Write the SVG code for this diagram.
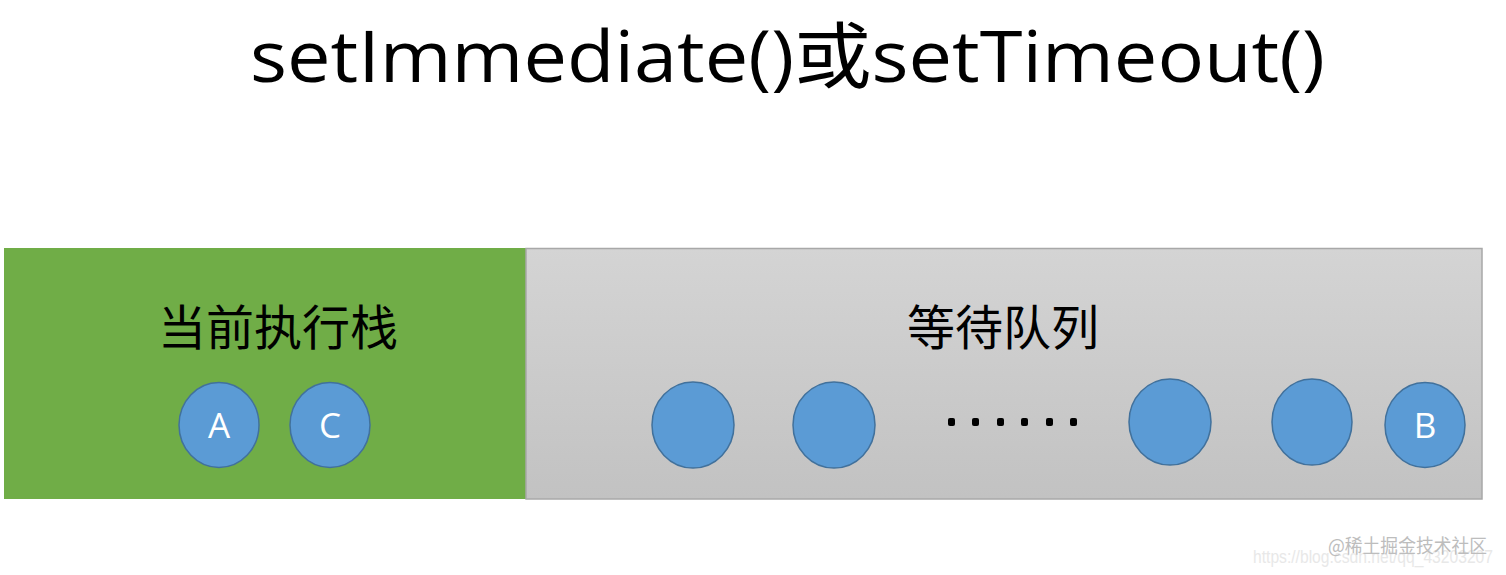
<svg xmlns="http://www.w3.org/2000/svg" width="1506" height="575" viewBox="0 0 1506 575">
<defs>
<linearGradient id="gray" x1="0" y1="0" x2="0" y2="1">
<stop offset="0" stop-color="#d4d4d4"/>
<stop offset="1" stop-color="#c2c2c2"/>
</linearGradient>
<style>
.title{font-family:"Open Sans","Noto Sans","Noto Sans CJK SC",sans-serif;font-size:72px;fill:#000}
.lbl{font-family:"Noto Sans CJK SC",sans-serif;font-size:48px;fill:#000;text-anchor:middle}
.ball{fill:#5b9bd5;stroke:#41719c;stroke-width:1.5}
.bt{font-family:"Open Sans","Noto Sans",sans-serif;font-size:35px;fill:#fff;text-anchor:middle}
.dot{fill:#000}
.wm{font-family:"Noto Sans CJK SC",sans-serif;font-size:19px;fill:#bdbdbd}
.wm2{font-family:"Liberation Sans",sans-serif;font-size:18px;fill:#e8e8e8}
</style>
</defs>
<rect width="1506" height="575" fill="#fff"/>
<text class="title" x="250" y="82" textLength="1075" lengthAdjust="spacingAndGlyphs">setImmediate()或setTimeout()</text>

<g id="stack">
<rect x="4" y="248" width="522" height="251" fill="#70ad47"/>
<text class="lbl" x="278" y="345">当前执行栈</text>
</g>
<g id="queue">
<rect x="526" y="248.5" width="956" height="250.5" fill="url(#gray)" stroke="#a8a8a8" stroke-width="1.5"/>
<text class="lbl" x="1003" y="345">等待队列</text>
</g>
<g id="nodeA"><ellipse class="ball" cx="219" cy="425" rx="40" ry="42.5"/><text class="bt" x="219" y="438">A</text></g>
<g id="nodeC"><ellipse class="ball" cx="330" cy="425" rx="40" ry="42.5"/><text class="bt" x="330" y="438">C</text></g>
<g id="q1"><ellipse class="ball" cx="693" cy="425" rx="41" ry="43"/></g>
<g id="q2"><ellipse class="ball" cx="834" cy="425" rx="41" ry="43"/></g>
<g id="dots">
<rect class="dot" x="948" y="418" width="7" height="8" rx="2"/>
<rect class="dot" x="972" y="418" width="7" height="8" rx="2"/>
<rect class="dot" x="997" y="418" width="7" height="8" rx="2"/>
<rect class="dot" x="1021" y="418" width="7" height="8" rx="2"/>
<rect class="dot" x="1046" y="418" width="7" height="8" rx="2"/>
<rect class="dot" x="1070" y="418" width="7" height="8" rx="2"/>
</g>
<g id="q3"><ellipse class="ball" cx="1170" cy="422" rx="41" ry="43"/></g>
<g id="q4"><ellipse class="ball" cx="1312" cy="422" rx="40" ry="43"/></g>
<g id="nodeB"><ellipse class="ball" cx="1425" cy="425" rx="40" ry="42.5"/><text class="bt" x="1425" y="438">B</text></g>
<g id="connectors"></g>
<text class="wm2" x="1253" y="563" textLength="240" lengthAdjust="spacingAndGlyphs">https://blog.csdn.net/qq_43203207</text>
<text class="wm" x="1328" y="553" textLength="159" lengthAdjust="spacingAndGlyphs">@稀土掘金技术社区</text>
</svg>
